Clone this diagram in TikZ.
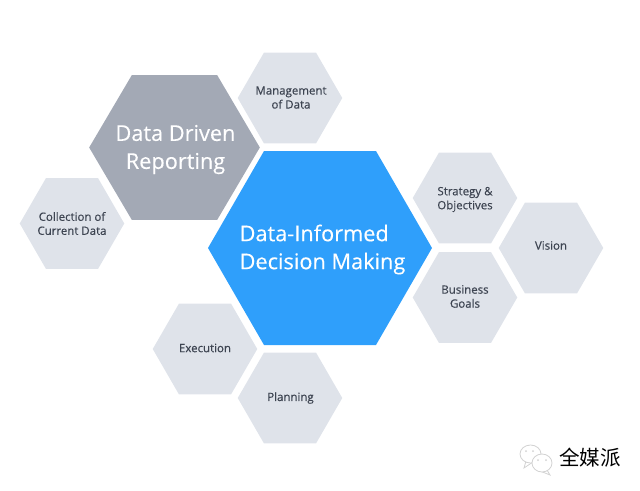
\documentclass[tikz,border=0pt]{standalone}
\usepackage{fontspec}
\setmainfont{Open Sans}
\newfontfamily\semifont[FakeBold=0.25]{Open Sans}
\newfontfamily\labelfont[FakeBold=0.4]{Open Sans}
\newfontfamily\cjkfont{Noto Sans CJK SC}
\usetikzlibrary{shapes.geometric}
\definecolor{hexblue}{HTML}{2F9FFB}
\definecolor{hexgray}{HTML}{A3A9B5}
\definecolor{hexlight}{HTML}{DFE3EA}
\definecolor{hextext}{HTML}{3D4451}
\definecolor{iconline}{HTML}{D2D2D2}
\tikzset{
hexagon/.style={regular polygon,regular polygon sides=6,inner sep=0pt,outer sep=0pt},
smallhex/.style={hexagon,fill=hexlight,minimum size=78.4pt},
bighex/.style={hexagon,fill=hexgray,minimum size=128pt,transform shape,yscale=0.98},
mainhex/.style={hexagon,fill=hexblue,minimum size=168pt},
smalltext/.style={text=hextext,align=center,font=\labelfont\fontsize{8.6}{10.5}\selectfont},
bigtext/.style={text=white,align=center,font=\semifont\fontsize{16.3}{21}\selectfont},
maintext/.style={text=white,align=left,font=\semifont\fontsize{16.3}{21}\selectfont},
bubble/.style={draw=iconline,fill=white,line width=0.6pt}
}
\begin{document}
\begin{tikzpicture}[x=0.75pt,y=-0.75pt]
\useasboundingbox (0,0) rectangle (640,490);
\node[mainhex] (informed) at (320,248) {};
\node[bighex] (driven) at (174.5,147.5) {};
\node[smallhex] (management) at (290,98) {};
\node[smallhex] (collection) at (72,223.5) {};
\node[smallhex] (strategy) at (465,198) {};
\node[smallhex] (vision) at (551,248) {};
\node[smallhex] (business) at (465,297.5) {};
\node[smallhex] (execution) at (205,349) {};
\node[smallhex] (planning) at (290,398) {};
\node[maintext] (informedtext) at (322.5,249.5) {Data-Informed\\Decision Making};
\node[bigtext] (driventext) at (175.5,149.5) {Data Driven\\Reporting};
\node[smalltext] (managementtext) at (291,97.5) {Management\\of Data};
\node[smalltext] (collectiontext) at (collection) {Collection of\\Current Data};
\node[smalltext] (strategytext) at (465,199.5) {Strategy \&\\Objectives};
\node[smalltext] (visiontext) at (551,245.5) {Vision};
\node[smalltext] (businesstext) at (465,296.5) {Business\\Goals};
\node[smalltext] (executiontext) at (205,348) {Execution};
\node[smalltext] (planningtext) at (290.5,398) {Planning};
\draw[bubble] (526,461) -- (524,468) -- (533,462) -- cycle;
\draw[bubble] (530.5,454) ellipse (10.5 and 9);
\draw[bubble] (547,470) -- (550,475) -- (540,471) -- cycle;
\draw[bubble] (542,463) ellipse (10 and 9);
\fill[iconline] (526,451) circle (1);
\fill[iconline] (533,451) circle (1);
\fill[iconline] (538,460) circle (1);
\fill[iconline] (546,460) circle (1);
\node[font=\cjkfont\fontsize{15.4}{15.4}\selectfont,text=black,inner sep=0pt] (brand) at (590,458) {全媒派};
\end{tikzpicture}
\end{document}
